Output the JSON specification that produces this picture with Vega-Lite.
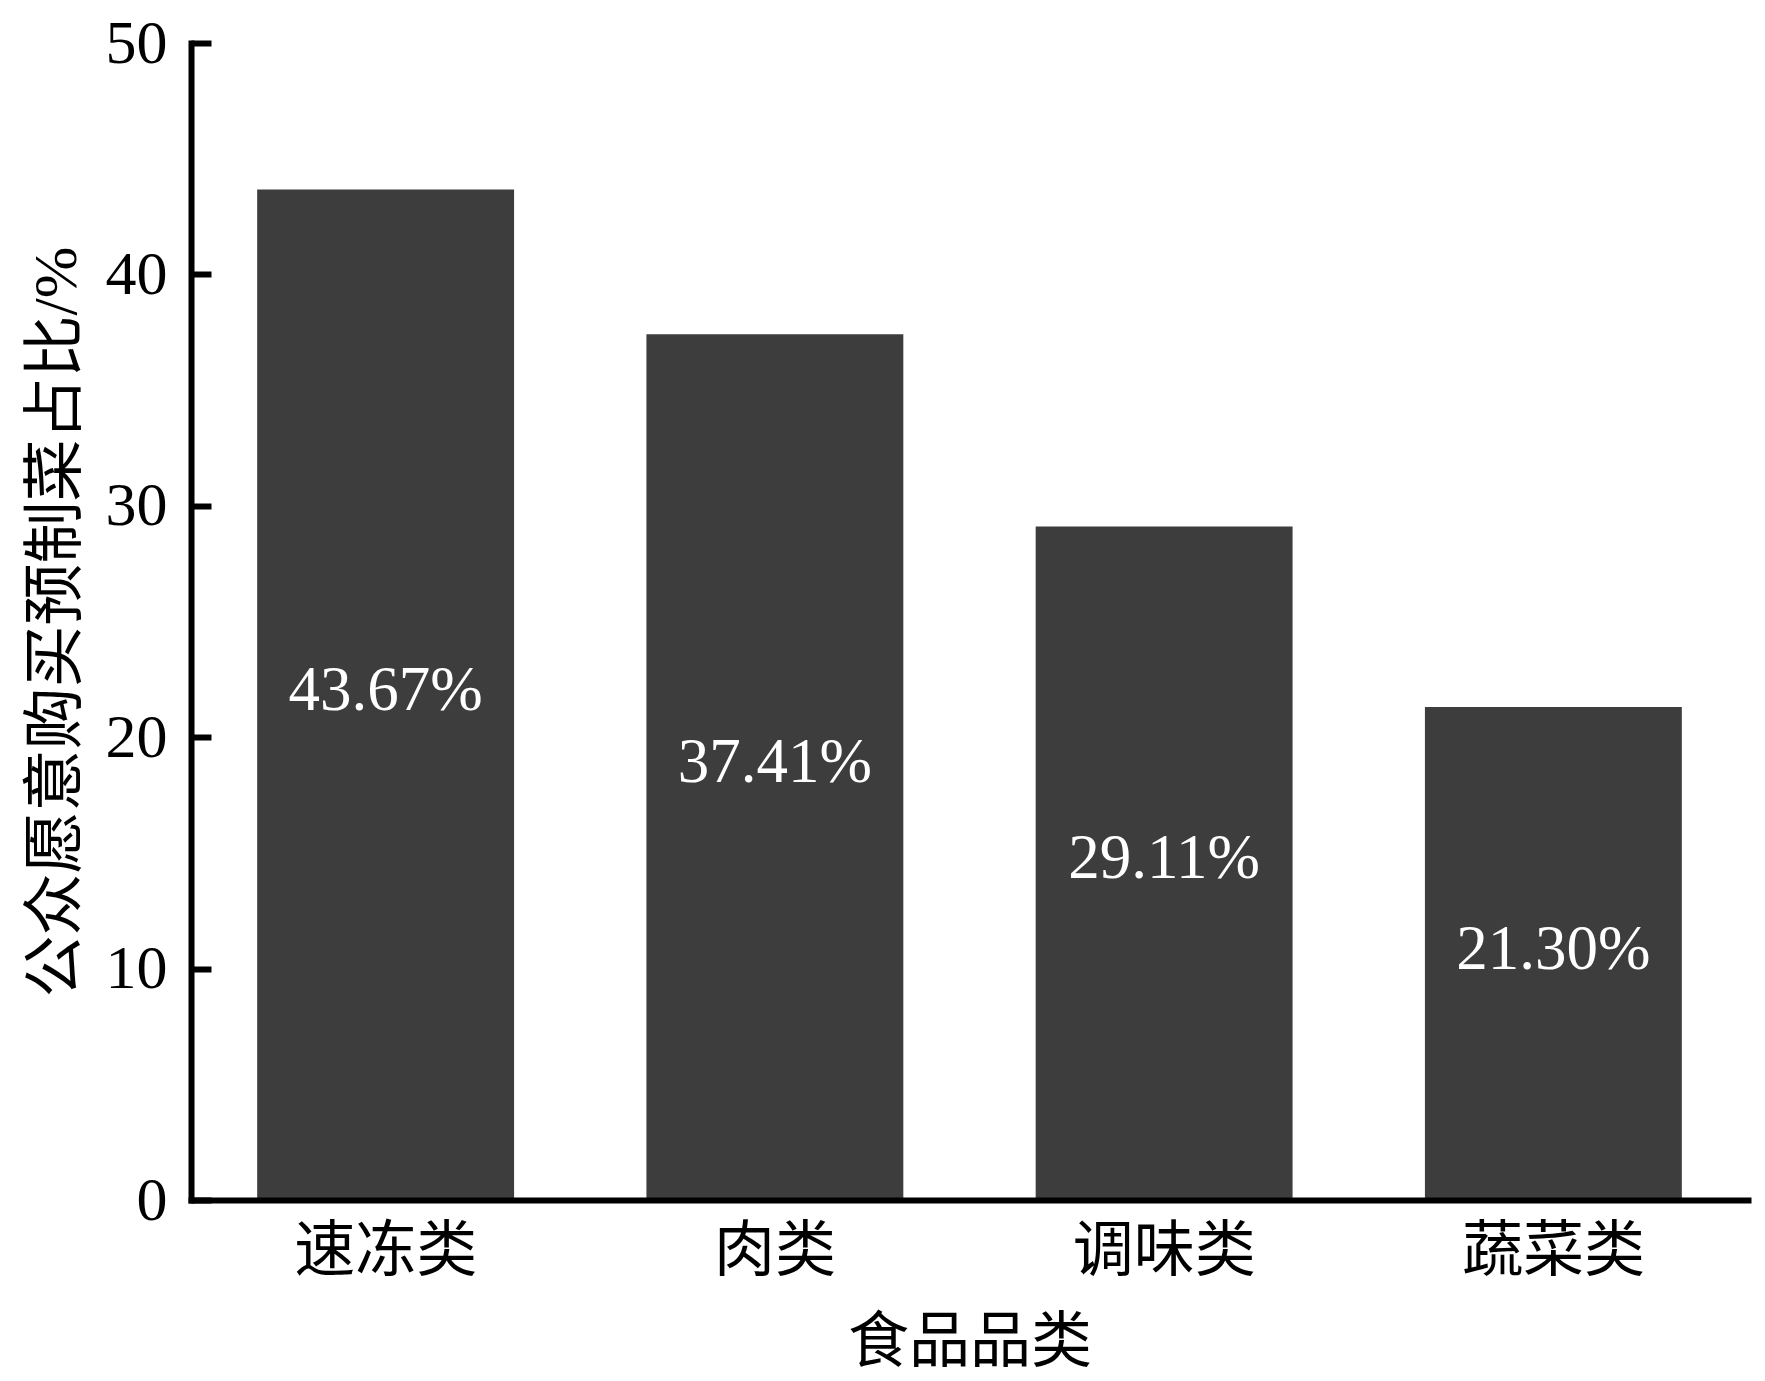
{
  "$schema": "https://vega.github.io/schema/vega-lite/v6.json",
  "width": 1557,
  "height": 1157,
  "autosize": {"type": "none"},
  "padding": {"left": 191, "top": 43, "right": 17, "bottom": 181},
  "background": "white",
  "data": {
    "values": [
      {"category": "速冻类", "value": 43.67, "label": "43.67%"},
      {"category": "肉类", "value": 37.41, "label": "37.41%"},
      {"category": "调味类", "value": 29.11, "label": "29.11%"},
      {"category": "蔬菜类", "value": 21.3, "label": "21.30%"}
    ]
  },
  "encoding": {
    "x": {
      "field": "category",
      "type": "nominal",
      "sort": null,
      "title": "食品品类",
      "scale": {"paddingInner": 0.34, "paddingOuter": 0.17},
      "axis": {
        "labelAngle": 0,
        "ticks": false,
        "labelLimit": 0,
        "labelPadding": 22,
        "labelBaseline": "top",
        "labelFontSize": 61,
        "titleFontSize": 61,
        "titleFontWeight": "normal",
        "titleX": 778.5,
        "titleY": 143,
        "titleBaseline": "middle",
        "titleAlign": "center",
        "zindex": 1
      }
    }
  },
  "layer": [
    {
      "mark": {"type": "bar", "color": "#3d3d3d"},
      "encoding": {
        "y": {
          "field": "value",
          "type": "quantitative",
          "title": "公众愿意购买预制菜占比/%",
          "scale": {"domain": [0, 50], "nice": false},
          "axis": {
            "values": [0, 10, 20, 30, 40, 50],
            "tickSize": -20,
            "labelPadding": 44,
            "labelFontSize": 62,
            "titleFontSize": 62,
            "titleFontWeight": "normal",
            "titleLimit": 0,
            "titleX": -135,
            "titleY": 578.5,
            "titleAngle": -90,
            "titleBaseline": "middle",
            "titleAlign": "center",
            "zindex": 1
          }
        }
      }
    },
    {
      "transform": [{"calculate": "datum.value / 2", "as": "mid"}],
      "mark": {
        "type": "text",
        "color": "white",
        "fontSize": 63,
        "font": "Liberation Serif",
        "baseline": "middle",
        "dy": -4
      },
      "encoding": {
        "y": {"field": "mid", "type": "quantitative"},
        "text": {"field": "label"}
      }
    }
  ],
  "config": {
    "view": {"stroke": null},
    "font": "Liberation Serif, Noto Sans CJK SC",
    "axis": {
      "grid": false,
      "domainColor": "black",
      "domainWidth": 6,
      "domainCap": "square",
      "tickColor": "black",
      "tickWidth": 6,
      "labelColor": "black",
      "titleColor": "black",
      "labelFont": "Liberation Serif, Noto Sans CJK SC",
      "titleFont": "Liberation Serif, Noto Sans CJK SC"
    }
  }
}
